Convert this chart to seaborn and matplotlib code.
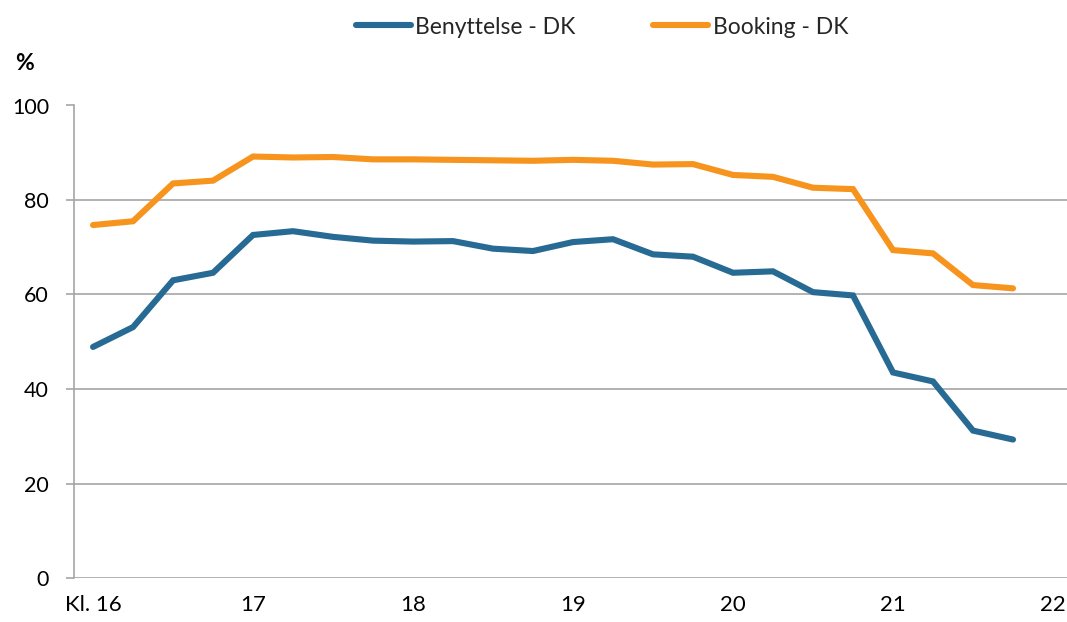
import numpy as np
import pandas as pd
import matplotlib
matplotlib.use("Agg")
import matplotlib.pyplot as plt
import seaborn as sns

# Data (quarter-hour steps from 16:00 to 21:45)
hours = [16.0, 16.25, 16.5, 16.75, 17.0, 17.25, 17.5, 17.75, 18.0, 18.25, 18.5, 18.75,
         19.0, 19.25, 19.5, 19.75, 20.0, 20.25, 20.5, 20.75, 21.0, 21.25, 21.5, 21.75]
benyttelse = [48.9, 53.1, 63.0, 64.6, 72.6, 73.4, 72.2, 71.4, 71.2, 71.3, 69.7, 69.2,
              71.1, 71.7, 68.5, 68.0, 64.6, 64.9, 60.5, 59.8, 43.5, 41.6, 31.2, 29.3]
booking = [74.7, 75.5, 83.5, 84.1, 89.2, 89.0, 89.1, 88.6, 88.6, 88.5, 88.4, 88.3,
           88.5, 88.3, 87.5, 87.6, 85.3, 84.9, 82.6, 82.3, 69.4, 68.7, 62.0, 61.3]
series_names = ["Benyttelse - DK", "Booking - DK"]
x_ticks = [16, 17, 18, 19, 20, 21, 22]
x_ticklabels = ["Kl. 16", "17", "18", "19", "20", "21", "22"]
y_ticks = [0, 20, 40, 60, 80, 100]

df = pd.DataFrame({
    "time": hours * 2,
    "value": benyttelse + booking,
    "series": [series_names[0]] * len(hours) + [series_names[1]] * len(hours),
})

sns.set_theme(style="white")
plt.rcParams["font.family"] = ["Lato", "DejaVu Sans"]

W, H = 1067, 622
fig = plt.figure(figsize=(W / 100, H / 100), dpi=100)
ax = fig.add_axes([74 / W, 1 - 578 / H, (W - 74) / W, (578 - 105.5) / H])

palette = {series_names[0]: "#276A94", series_names[1]: "#F7941D"}
sns.lineplot(data=df, x="time", y="value", hue="series", palette=palette,
             linewidth=4.4, ax=ax, legend=False, solid_capstyle="round",
             solid_joinstyle="miter")

ax.set_xlim(15.881, 16 + (W - 93) / 160)
ax.set_ylim(0, 100)
ax.set_yticks(y_ticks)
ax.set_xticks(x_ticks)
ax.set_xticklabels(x_ticklabels)
ax.set_xlabel("")
ax.set_ylabel("")

grid_c = "#A6A6A6"
ax.yaxis.grid(True, color=grid_c, linewidth=1.2)
ax.xaxis.grid(False)
ax.set_axisbelow(True)
for s in ["top", "right", "bottom"]:
    ax.spines[s].set_visible(False)
ax.spines["left"].set_color(grid_c)
ax.spines["left"].set_linewidth(1.2)

ax.tick_params(axis="y", which="major", length=6, width=1.2, color=grid_c,
               left=True, labelsize=15.5, pad=12, labelcolor="#000000")
ax.tick_params(axis="x", which="major", length=0, labelsize=16, pad=12,
               labelcolor="#000000")

fig.text(24 / W, 1 - 63 / H, "%", ha="center", va="center", fontsize=16.5,
         fontweight="bold", color="#000000")

handles = [plt.Line2D([], [], color=palette[n], linewidth=4.4, solid_capstyle="round")
           for n in series_names]
fig.legend(handles, series_names, loc="center", bbox_to_anchor=(602 / W, 1 - 27 / H),
           ncol=2, frameon=False, fontsize=16.5, handlelength=2.4, handletextpad=0.2,
           columnspacing=3.4, borderpad=0)

fig.savefig("out.png", dpi=100)
